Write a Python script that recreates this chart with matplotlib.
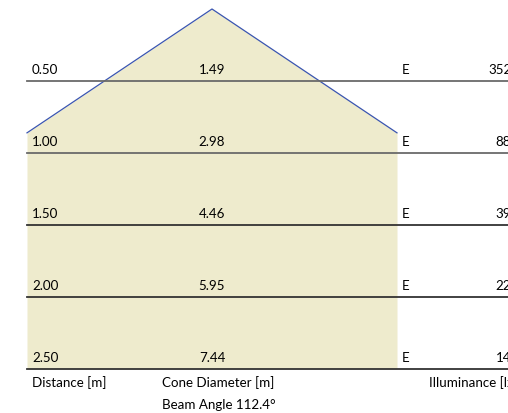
import numpy as np
import matplotlib
matplotlib.use("Agg")
import matplotlib.pyplot as plt

distances = [0.50, 1.00, 1.50, 2.00, 2.50]
diameters = [1.49, 2.98, 4.46, 5.95, 7.44]
illuminance = [3528, 882, 392, 220, 141]
beam_angle = 112.4

plt.rcParams["font.family"] = ["Lato", "DejaVu Sans"]

W, H = 508, 413
scale = 144.0          # pixels per metre
cx, top = 212, 9       # apex position in pixels
fs = 9.6

fig = plt.figure(figsize=(W / 100, H / 100), dpi=100)
ax = fig.add_axes([0, 0, 1, 1])
ax.set_xlim(-cx / scale, (W - cx) / scale)
ax.set_ylim((H - top) / scale, -top / scale)
ax.axis("off")

half_clip = 185 / scale
left_x = (27 - cx) / scale
d = np.linspace(0, max(distances), 400)
half = d * np.tan(np.radians(beam_angle / 2))
w = np.minimum(half, half_clip)
ax.fill_betweenx(d, -w, w, color="#eeebcd", lw=0, zorder=1)

d_edge = half_clip / np.tan(np.radians(beam_angle / 2))
ax.plot([-half_clip, 0, half_clip], [d_edge, 0, d_edge], color="#3a55b0", lw=0.9, zorder=2)

px = 1 / scale
for i, (dist, dia, lux) in enumerate(zip(distances, diameters, illuminance)):
    lc = "#6a6a6a" if i < 2 else "#333333"
    ax.plot([left_x, 600 * px], [dist, dist], color=lc, lw=1.3, zorder=3)
    ty = dist - 11 * px
    ax.text(left_x + 5 * px, ty, f"{dist:.2f}", fontsize=fs, va="center", ha="left")
    ax.text(0, ty, f"{dia:.2f}", fontsize=fs, va="center", ha="center")
    ax.text(190 * px, ty, "E", fontsize=fs, va="center", ha="left")
    ax.text(307 * px, ty, f"{lux}", fontsize=fs, va="center", ha="right")

bottom = max(distances)
ax.text(left_x + 5 * px, bottom + 14 * px, "Distance [m]", fontsize=fs, va="center", ha="left")
ax.text(-50 * px, bottom + 14 * px, "Cone Diameter [m]", fontsize=fs, va="center", ha="left")
ax.text(-50 * px, bottom + 36 * px, f"Beam Angle {beam_angle}°", fontsize=fs, va="center", ha="left")
ax.text(217 * px, bottom + 14 * px, "Illuminance [lx]", fontsize=fs, va="center", ha="left")

fig.savefig("out.png", dpi=100)
